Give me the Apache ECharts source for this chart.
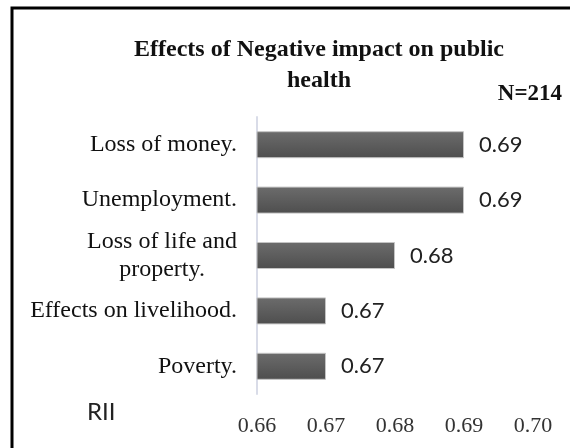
<!DOCTYPE html>
<html>
<head>
<meta charset="utf-8">
<script src="https://cdn.jsdelivr.net/npm/echarts@6/dist/echarts.min.js"></script>
<style>
  html, body { margin: 0; padding: 0; background: #fff; }
  #chart { width: 570px; height: 448px; }
</style>
</head>
<body>
<div id="chart"></div>
<script>
// Relative Importance Index of negative public-health effects
const categories = [
  'Loss of money.',
  'Unemployment.',
  'Loss of life and property.',
  'Effects on livelihood.',
  'Poverty.'
];
const riiValues = [0.69, 0.69, 0.68, 0.67, 0.67];
const axisMin = 0.66;
const axisMax = 0.70;
const axisStep = 0.01;
const titleText = 'Effects of Negative impact on public\nhealth';
const sampleText = 'N=214';
const axisName = 'RII';

// wrap long category names onto two centred lines
function wrapName(name) {
  if (name.length <= 22) return '{c|' + name + '}';
  const words = name.split(' ');
  const lines = [];
  let cur = '';
  words.forEach(w => {
    const next = cur ? cur + ' ' + w : w;
    if (next.length > 16 && cur) { lines.push(cur); cur = w; }
    else cur = next;
  });
  if (cur) lines.push(cur);
  return lines.map(l => '{c|' + l + '}').join('\n');
}

const serif = '"Liberation Serif", "Times New Roman", serif';
const sans = 'Lato, "Open Sans", sans-serif';

const chart = echarts.init(document.getElementById('chart'), null, { renderer: 'canvas' });
chart.setOption({
  backgroundColor: '#ffffff',
  animation: false,
  title: {
    text: titleText,
    left: 314,
    textAlign: 'center',
    top: 29,
    textStyle: {
      fontFamily: serif,
      fontWeight: 'bold',
      fontSize: 24,
      lineHeight: 31,
      color: '#111'
    }
  },
  graphic: [
    {
      type: 'rect',
      shape: { x: 12, y: 8, width: 620, height: 520 },
      style: { fill: 'none', stroke: '#000', lineWidth: 3 },
      silent: true
    },
    {
      type: 'text',
      right: 8,
      top: 83,
      style: {
        text: sampleText,
        font: 'bold 23px ' + serif,
        fill: '#111'
      }
    },
    {
      type: 'text',
      left: 87,
      top: 400,
      style: {
        text: axisName,
        font: '24px ' + sans,
        fill: '#222'
      }
    }
  ],
  grid: { left: 257, right: 37, top: 117, bottom: 54, containLabel: false },
  xAxis: {
    type: 'value',
    min: axisMin,
    max: axisMax,
    interval: axisStep,
    axisLine: { show: false },
    axisTick: { show: false },
    splitLine: { show: false },
    axisLabel: {
      margin: 21,
      fontFamily: serif,
      fontSize: 22,
      color: '#333',
      formatter: v => v.toFixed(2)
    }
  },
  yAxis: {
    type: 'category',
    data: categories,
    inverse: true,
    axisLine: { show: true, lineStyle: { color: '#d9dce8', width: 2 } },
    axisTick: { show: false },
    splitLine: { show: false },
    axisLabel: {
      margin: 20,
      formatter: wrapName,
      rich: {
        c: {
          align: 'center',
          fontFamily: serif,
          fontSize: 24,
          lineHeight: 28,
          color: '#111'
        }
      }
    }
  },
  series: [{
    type: 'bar',
    data: riiValues,
    barWidth: 27,
    itemStyle: {
      color: new echarts.graphic.LinearGradient(0, 0, 0, 1, [
        { offset: 0, color: '#6c6c6c' },
        { offset: 1, color: '#4e4e4e' }
      ]),
      borderColor: '#c4c4c4',
      borderWidth: 1
    },
    label: {
      show: true,
      position: 'right',
      distance: 15,
      fontFamily: sans,
      fontSize: 22,
      color: '#222',
      formatter: p => p.value.toFixed(2)
    }
  }]
});
</script>
</body>
</html>
